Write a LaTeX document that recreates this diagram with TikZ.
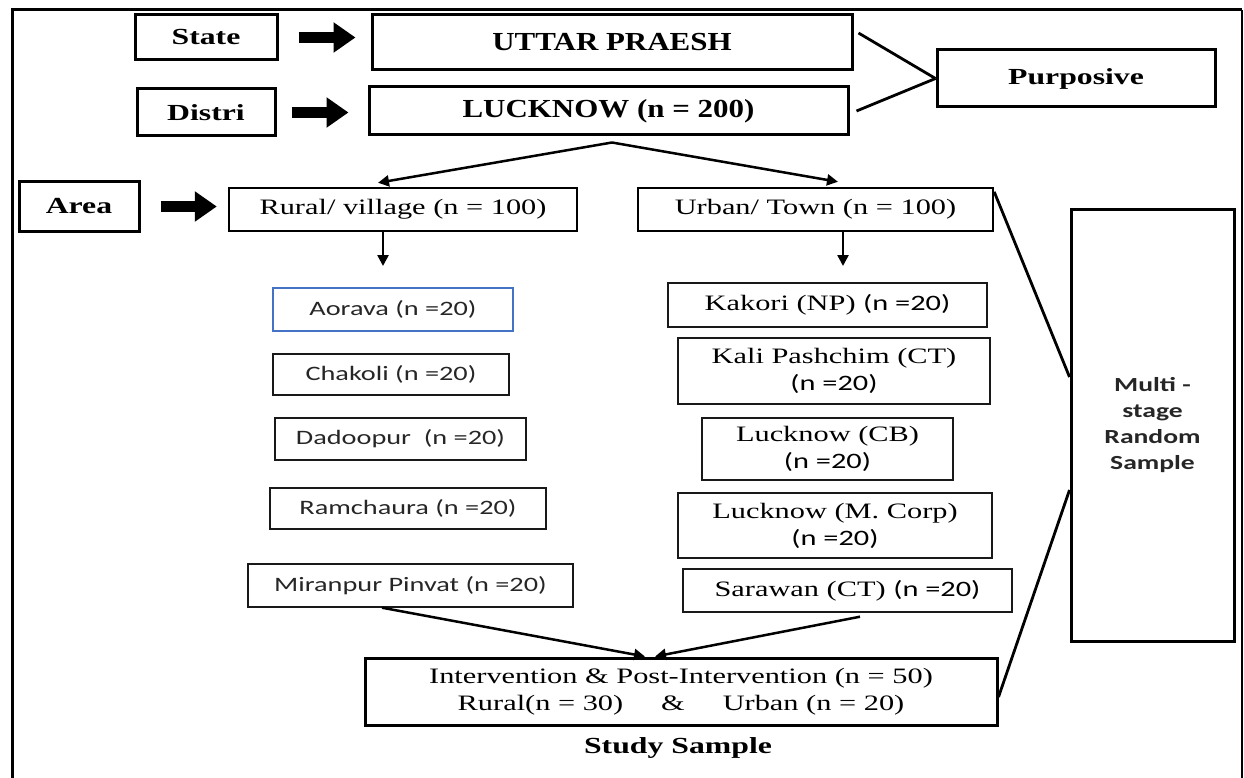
\documentclass[tikz,border=0pt]{standalone}
\usepackage{fontspec}
\setmainfont{Liberation Serif}
\newfontfamily\calib{Carlito}
\usetikzlibrary{arrows.meta}
\definecolor{aoblue}{RGB}{68,114,196}
\newcommand{\hs}[1]{\scalebox{1.38}[1]{#1}}
\newcommand{\hb}[1]{\scalebox{1.19}[1]{#1}}
\begin{document}
\begin{tikzpicture}[x=1pt,y=-1pt,
  thickbox/.style={draw, line width=3pt, inner sep=0pt, align=center},
  midbox/.style={draw, line width=2.4pt, inner sep=0pt, align=center},
  thinbox/.style={draw=black!90, line width=1.4pt, inner sep=0pt, align=center},
  bluebox/.style={draw=aoblue, line width=1.2pt, inner sep=0pt, align=center},
  blockarrow/.style={line width=11pt, -{Triangle[length=22pt,width=29pt]}},
  conn/.style={line width=2.5pt, -{Triangle[length=11pt,width=11pt]}},
  joinline/.style={line width=2.8pt},
  lbl/.style={font=\fontsize{23}{27}\selectfont\bfseries},
  bigl/.style={font=\fontsize{26}{30}\selectfont\bfseries},
  reg/.style={font=\fontsize{22}{27}\selectfont},
  sans/.style={font=\fontsize{20.5}{26}\selectfont\calib, text=black!85},
  multit/.style={font=\fontsize{20}{26}\selectfont\calib\bfseries, text=black!85},
]
\useasboundingbox (0,0) rectangle (1244,778);
% outer frame
\draw[line width=3pt] (12,778) -- (12,10) -- (1242,10);
\draw[line width=1.2pt] (1242,10) -- (1242,778);

% top rows
\node[thickbox, lbl, minimum width=142pt, minimum height=45pt] (state) at (206,37.5) {\hs{State}};
\node[thickbox, bigl, minimum width=480pt, minimum height=55pt] (uttar) at (612,42.5) {\hb{UTTAR PRAESH}};
\node[thickbox, lbl, minimum width=138pt, minimum height=47pt] (distri) at (206,112.5) {\hs{Distri}};
\node[thickbox, bigl, minimum width=479pt, minimum height=48pt] (lucknow) at (608.5,111) {\hb{LUCKNOW (n = 200)}};
\node[thickbox, lbl, minimum width=278pt, minimum height=57pt] (purposive) at (1076,78.5) {\hs{Purposive}};

% area row
\node[thickbox, lbl, minimum width=120pt, minimum height=49pt] (area) at (79,206.5) {\hs{Area}};
\node[midbox, reg, minimum width=348pt, minimum height=43pt] (rural) at (403,209.5) {\hs{Rural/ village (n = 100)}};
\node[midbox, reg, minimum width=355pt, minimum height=43pt] (urban) at (815.5,209.5) {\hs{Urban/ Town (n = 100)}};

% left column
\node[bluebox, sans, minimum width=240pt, minimum height=43pt] (aorava) at (393,309.5) {\hs{Aorava (n =20)}};
\node[thinbox, sans, minimum width=236pt, minimum height=41pt] (chakoli) at (391,374.5) {\hs{Chakoli (n =20)}};
\node[thinbox, sans, minimum width=251pt, minimum height=42pt] (dadoopur) at (400.5,439) {\hs{Dadoopur\ \ (n =20)}};
\node[thinbox, sans, minimum width=276pt, minimum height=41pt] (ramchaura) at (408,508.5) {\hs{Ramchaura (n =20)}};
\node[thinbox, sans, minimum width=325pt, minimum height=43pt] (miranpur) at (410.5,585.5) {\hs{Miranpur Pinvat (n =20)}};

% right column
\node[thinbox, reg, minimum width=319pt, minimum height=44pt] (kakori) at (827.5,305) {\hs{Kakori (NP) {\calib (n =20)}}};
\node[thinbox, reg, minimum width=312pt, minimum height=66pt] (kali) at (834,371) {\hs{Kali Pashchim (CT)}\\\hs{\calib (n =20)}};
\node[thinbox, reg, minimum width=251pt, minimum height=62pt] (lcb) at (827.5,449) {\hs{Lucknow (CB)}\\\hs{\calib (n =20)}};
\node[thinbox, reg, minimum width=314pt, minimum height=65pt] (lmc) at (835,525.5) {\hs{Lucknow (M. Corp)}\\\hs{\calib (n =20)}};
\node[thinbox, reg, minimum width=329pt, minimum height=43pt] (sarawan) at (847.5,590.5) {\hs{Sarawan (CT) {\calib (n =20)}}};

% multi-stage box
\node[thickbox, multit, minimum width=163pt, minimum height=432pt] (multi) at (1152.5,425) {\raisebox{7pt}{\hs{\begin{tabular}{@{}c@{}}Multi -\\stage\\Random\\Sample\end{tabular}}}};

% intervention
\node[thickbox, reg, minimum width=632pt, minimum height=67pt] (interv) at (681,691.5) {\hs{Intervention \& Post-Intervention (n = 50)}\\\hs{Rural(n = 30)\quad\ \&\quad\ Urban (n = 20)}};
\node[lbl] (study) at (678,748) {\hs{Study Sample}};

% block arrows
\draw[blockarrow, shorten <=20pt, shorten >=15pt] (state.east) -- (state.east -| uttar.west);
\draw[blockarrow, shorten <=15pt, shorten >=19pt] (distri.east) -- (distri.east -| lucknow.west);
\draw[blockarrow, shorten <=20pt, shorten >=11pt] (area.east) -- (area.east -| rural.west);

% lines to purposive
\draw[joinline] ([xshift=5pt,yshift=9.5pt]uttar.east) -- (purposive.west);
\draw[joinline] ([xshift=7pt]lucknow.east) -- (purposive.west);

% split arrows
\draw[conn] ([xshift=3.5pt,yshift=-6pt]lucknow.south) -- ([xshift=-25pt,yshift=4pt]rural.north);
\draw[conn] ([xshift=3.5pt,yshift=-6pt]lucknow.south) -- ([xshift=22.5pt,yshift=5pt]urban.north);

% down arrows
\coordinate (rdown) at (383,266);
\coordinate (udown) at (843,266);
\draw[conn] (rural.south -| rdown) -- (rdown);
\draw[conn] (urban.south -| udown) -- (udown);

% lines to multi
\draw[joinline] ([yshift=-5pt]urban.north east) -- ([yshift=48pt]multi.west);
\draw[joinline] ([yshift=-5.5pt]interv.east) -- ([yshift=-65pt]multi.west);

% converging arrows
\draw[conn] ([xshift=-28.5pt]miranpur.south) -- ([xshift=-36pt]interv.north);
\draw[conn] ([xshift=12.5pt,yshift=-4pt]sarawan.south) -- ([xshift=-26pt]interv.north);
\end{tikzpicture}
\end{document}
